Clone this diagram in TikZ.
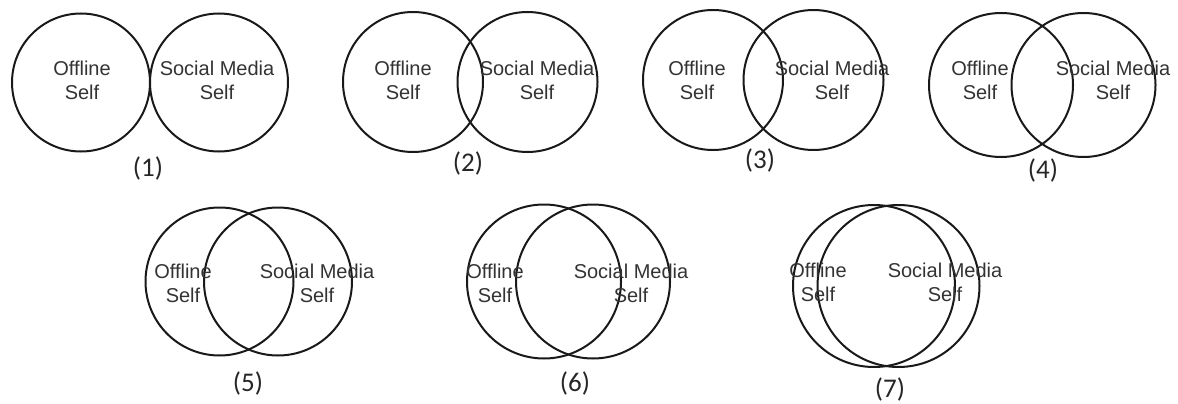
\documentclass[tikz,border=0pt]{standalone}
\usepackage{fontspec}
\setmainfont{Liberation Sans}
\newfontfamily\calibri{Carlito}
\tikzset{
  selfring/.style={draw=black!90, circle, line width=2pt, minimum size=#1, inner sep=0pt},
  selftext/.style={align=center, text=black!80, font=\fontsize{20}{24}\selectfont, inner sep=0pt},
  stagelab/.style={text=black!85, font=\calibri\fontsize{27}{28}\selectfont, inner sep=0pt},
}
\begin{document}
\begin{tikzpicture}[x=1pt,y=-1pt]
  \useasboundingbox (0,0) rectangle (1178,404);
  \foreach \n/\xl/\xr/\y/\d/\xo/\xs/\ty/\lx/\ly in {
      1/81/219/82.5/138/82/217/80/148/168,
      2/413/527.5/82/140/403/537/80/468/163,
      3/713/813.5/80/140/697/832/80/760/160,
      4/1001/1083.5/85/144/980/1113/80/1043/170,
      5/219.5/278/281.5/148/183/317/283/248/383,
      6/544/593/281.5/154/495/631/283/575/383,
      7/874/898.5/286/162/818/945/282/890/389} {
    \node[selfring=\d] (off\n) at (\xl,\y) {};
    \node[selfring=\d] (sm\n) at (\xr,\y) {};
    \node[selftext] (offtxt\n) at (\xo,\ty) {Offline\\Self};
    \node[selftext] (smtxt\n) at (\xs,\ty) {Social Media\\Self};
    \node[stagelab] (lab\n) at (\lx,\ly) {(\n)};
  }
\end{tikzpicture}
\end{document}
